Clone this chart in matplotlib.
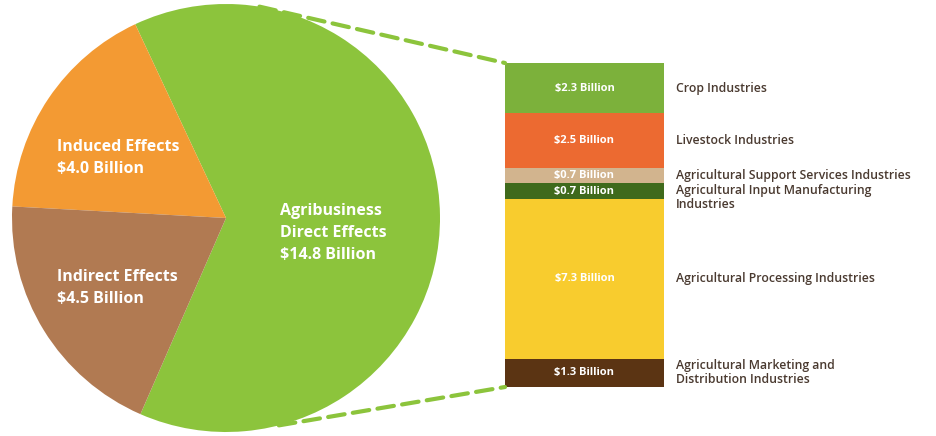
import numpy as np
import matplotlib.pyplot as plt
from matplotlib.patches import ConnectionPatch

plt.rcParams['font.family'] = ['Open Sans', 'DejaVu Sans']

# 饼图数据
pie_labels = ['Agribusiness\nDirect Effects\n$14.8 Billion',
              'Induced Effects\n$4.0 Billion',
              'Indirect Effects\n$4.5 Billion']
pie_values = [14.8, 4.0, 4.5]
pie_colors = ['#8cc43c', '#f39a33', '#b17a52']

# 堆叠柱数据（从上往下）
bar_names = ['Crop Industries', 'Livestock Industries',
             'Agricultural Support Services Industries',
             'Agricultural Input Manufacturing\nIndustries',
             'Agricultural Processing Industries',
             'Agricultural Marketing and\nDistribution Industries']
bar_values = [2.3, 2.5, 0.7, 0.7, 7.3, 1.3]
bar_colors = ['#7cb13b', '#ec6a31', '#d2b48e', '#3f6a1c', '#f8cc2e', '#5b3413']

fig = plt.figure(figsize=(9.36, 4.36), dpi=100)

# 左边饼图，坐标按像素
ax = fig.add_axes([0, 0, 1, 1])
cx, cy, r = 226, 218, 214
start = 115.1 - 360 * pie_values[0] / sum(pie_values)
ax.pie(pie_values, colors=pie_colors, center=(cx, cy), radius=r,
       startangle=start, counterclock=True, frame=True)
ax.set_xlim(0, 936)
ax.set_ylim(0, 436)
ax.axis('off')

txt = dict(color='white', fontsize=11.5, fontweight='bold', ha='left', va='center',
           linespacing=1.5)
ax.text(280, 436 - 233, pie_labels[0], **txt)
ax.text(57, 436 - 158, pie_labels[1], **txt)
ax.text(57, 436 - 288, pie_labels[2], **txt)

# 右边堆叠柱
bx = fig.add_axes([505 / 936, 49 / 436, 159 / 936, 324 / 436])
bottoms = np.concatenate([[0], np.cumsum(bar_values)[:-1]])
bx.bar(0, bar_values, bottom=bottoms, width=1, color=bar_colors)
bx.set_xlim(-0.5, 0.5)
bx.set_ylim(sum(bar_values), 0)
bx.axis('off')

for i, (v, b, name) in enumerate(zip(bar_values, bottoms, bar_names)):
    mid = b + v / 2
    bx.text(0, mid, '$%.1f Billion' % v, color='white', fontsize=8,
            fontweight='bold', ha='center', va='center')
    if i == 3:
        bx.text(0.575, b + 0.02, name, color='#4a3a30', fontsize=8.8,
                fontweight='semibold', ha='left', va='top', linespacing=1.1,
                clip_on=False)
    else:
        bx.text(0.575, mid, name, color='#4a3a30', fontsize=8.8,
                fontweight='semibold', ha='left', va='center', linespacing=1.1,
                clip_on=False)

# 虚线连接
for ang, yb in [(81, 0), (-75.7, sum(bar_values))]:
    p = (cx + r * np.cos(np.radians(ang)), cy + r * np.sin(np.radians(ang)))
    con = ConnectionPatch(xyA=p, coordsA=ax.transData, xyB=(-0.5, yb),
                          coordsB=bx.transData, color='#8cc43c', lw=3,
                          linestyle=(0, (4, 2)))
    fig.add_artist(con)

plt.savefig('out.png', dpi=100)
